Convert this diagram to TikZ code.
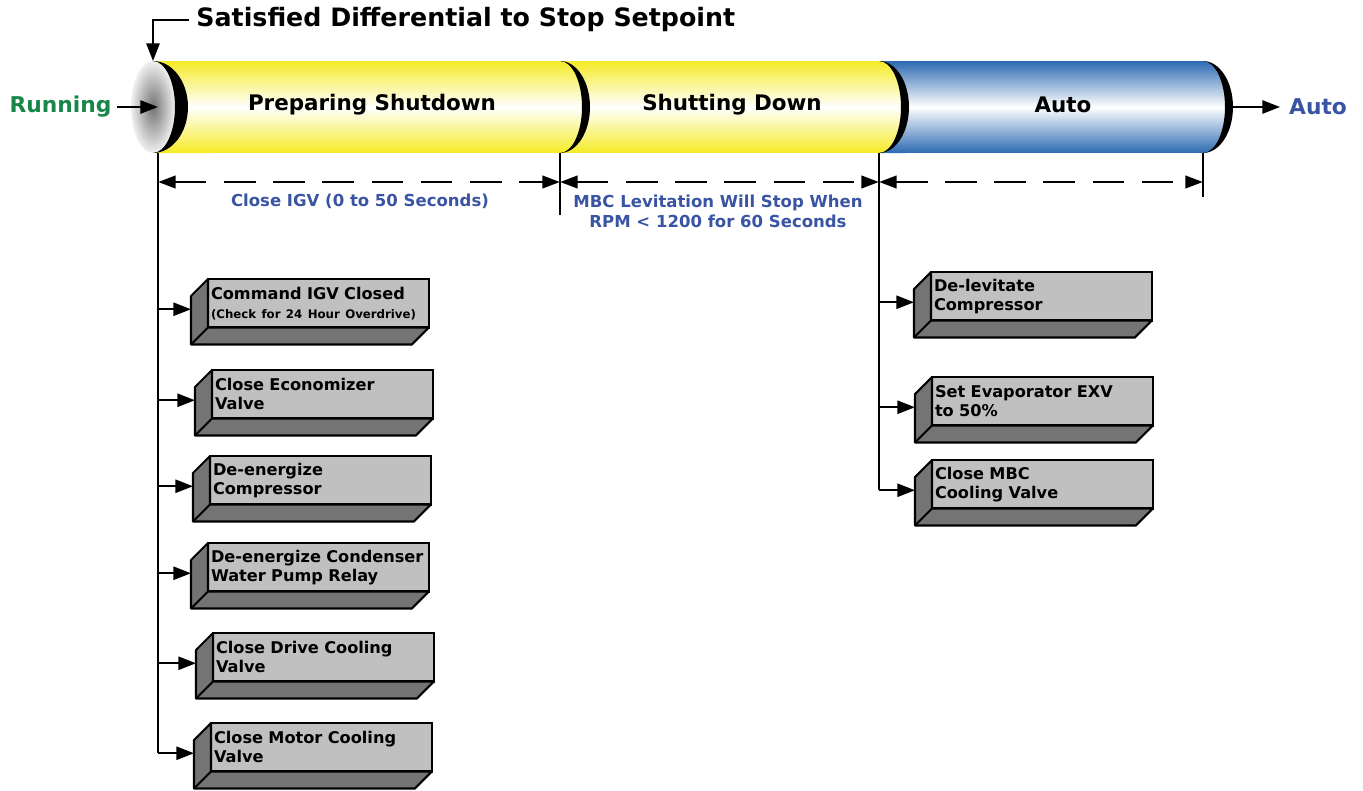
\documentclass[tikz,border=0pt]{standalone}
\usepackage{fontspec}
\setmainfont{DejaVu Sans}
\usetikzlibrary{arrows.meta, positioning, calc}

\definecolor{cylyellow}{RGB}{245,235,38}
\definecolor{cylblue}{RGB}{44,106,178}
\definecolor{rungreen}{RGB}{24,134,72}
\definecolor{noteblue}{RGB}{58,84,164}
\definecolor{cardface}{RGB}{192,192,192}
\definecolor{cardside}{RGB}{116,116,116}

\tikzset{
  card/.style={draw=black, line width=1.2pt, fill=cardface, anchor=north west, outer sep=0pt,
    text width=4.3cm, inner xsep=0.06cm, inner ysep=0pt, minimum height=0.97cm, align=left,
    font=\fontsize{9.2}{10.8}\selectfont\bfseries},
  cardshade/.style={draw=black, line width=1.2pt, fill=cardside, line join=round},
  flow/.style={line width=1.1pt, -{Triangle[length=10pt, width=7.5pt]}},
  trunk/.style={line width=1.1pt},
  dimline/.style={line width=1.6pt, dash pattern=on 18pt off 10pt,
    {Triangle[length=10pt, width=7pt]}-{Triangle[length=10pt, width=7pt]}},
  note/.style={text=noteblue, font=\fontsize{9.4}{11.3}\selectfont\bfseries, align=center},
  seglabel/.style={font=\fontsize{12.2}{14}\selectfont\bfseries},
  endlabel/.style={font=\fontsize{12.4}{14}\selectfont\bfseries},
}

\begin{document}
\begin{tikzpicture}[x=0.02cm, y=-0.02cm]
  \useasboundingbox (0,0) rectangle (1363,791);

  % pipe segments
  \shade[top color=cylblue, bottom color=cylblue, middle color=white]
    (879,61) -- (1203,61) arc[start angle=90, end angle=-90, x radius=0.5cm, y radius=0.92cm] -- (879,153) -- cycle;
  \shade[top color=cylyellow, bottom color=cylyellow, middle color=white]
    (153,61) -- (879,61) arc[start angle=90, end angle=-90, x radius=0.5cm, y radius=0.92cm] -- (153,153) -- cycle;
  \shade[inner color=black!55, outer color=black!6] (153,107) ellipse[x radius=0.44cm, y radius=0.92cm];
  \foreach \xb/\ro in {153/0.7, 560/0.6, 879/0.6, 1203/0.6}
    \fill (\xb,61) arc[start angle=90, end angle=-90, x radius=\ro cm, y radius=0.92cm]
      arc[start angle=-90, end angle=90, x radius=0.44cm, y radius=0.92cm] -- cycle;

  \node[seglabel] (prep) at (372,105) {Preparing Shutdown};
  \node[seglabel] (shut) at (732,105) {Shutting Down};
  \node[seglabel] (autoseg) at (1063,105) {Auto};

  \coordinate (capTop) at (153,61);
  \coordinate (capMid) at (158,107);
  \coordinate (autoEnd) at (1228,107);
  \coordinate (lsplit) at (158,153);
  \coordinate (msplit) at (560,153);
  \coordinate (rsplit) at (879,153);
  \coordinate (esplit) at (1203,153);

  % title and ends
  \node[font=\fontsize{14.4}{17}\selectfont\bfseries, anchor=west, inner sep=4pt] (title) at (189,20)
    {Satisfied Differential to Stop Setpoint};
  \draw[flow] (title.west) -| (capTop);
  \node[endlabel, text=rungreen, anchor=east, inner sep=3pt] (running) at (117,107) {Running};
  \draw[flow] (running.east) -- (capMid);
  \node[endlabel, text=noteblue, anchor=west, inner sep=5pt] (autoout) at (1280,107) {Auto};
  \draw[flow] (autoEnd) -- (autoout.west);

  % timing
  \draw[trunk] (msplit) -- ++(0,62);
  \draw[trunk] (esplit) -- ++(0,44);
  \draw[dimline] ($(lsplit)+(0,29)$) -- ($(msplit)+(0,29)$);
  \draw[dimline] ($(msplit)+(0,29)$) -- ($(rsplit)+(0,29)$);
  \draw[dimline] ($(rsplit)+(0,29)$) -- ($(esplit)+(0,29)$);
  \node[note] (igvnote) at (360,201) {Close IGV (0 to 50 Seconds)};
  \node[note] (mbcnote) at (718,211) {MBC Levitation Will Stop When\\RPM < 1200 for 60 Seconds};

  % actions
  \node[card] (igvcmd) at (208,279) {Command IGV Closed\\{\fontsize{6.7}{8}\selectfont (Check for 24 Hour Overdrive)}};
  \node[card] (econ) at (212,370) {Close Economizer\\Valve};
  \node[card] (compoff) at (210,456) {De-energize\\Compressor};
  \node[card] (cwpump) at (208,543) {\mbox{De-energize Condenser}\\Water Pump Relay};
  \node[card] (drivecool) at (213,633) {Close Drive Cooling\\Valve};
  \node[card] (motorcool) at (211,723) {Close Motor Cooling\\Valve};
  \node[card] (delev) at (931,272) {De-levitate\\Compressor};
  \node[card] (evapexv) at (932,377) {Set Evaporator EXV\\to 50\%};
  \node[card] (mbccool) at (932,460) {Close MBC\\Cooling Valve};

  \foreach \n in {igvcmd,econ,compoff,cwpump,drivecool,motorcool,delev,evapexv,mbccool} {
    \draw[cardshade] (\n.north west) -- ++(-17,17) -- ($(\n.south west)+(-17,17)$)
      -- ($(\n.south east)+(-17,17)$) -- (\n.south east) -- (\n.south west) -- cycle;
    \draw[cardshade] (\n.south west) -- ++(-17,17);
  }

  \draw[trunk] (lsplit) -- ($(lsplit |- motorcool.west)+(0,6)$);
  \foreach \n in {igvcmd,econ,compoff,cwpump,drivecool,motorcool}
    \draw[flow] ($(lsplit |- \n.west)+(0,6)$) -- ($(\n.west)+(-17,6)$);
  \draw[trunk] (rsplit) -- ($(rsplit |- mbccool.west)+(0,6)$);
  \foreach \n in {delev,evapexv,mbccool}
    \draw[flow] ($(rsplit |- \n.west)+(0,6)$) -- ($(\n.west)+(-17,6)$);
\end{tikzpicture}
\end{document}
